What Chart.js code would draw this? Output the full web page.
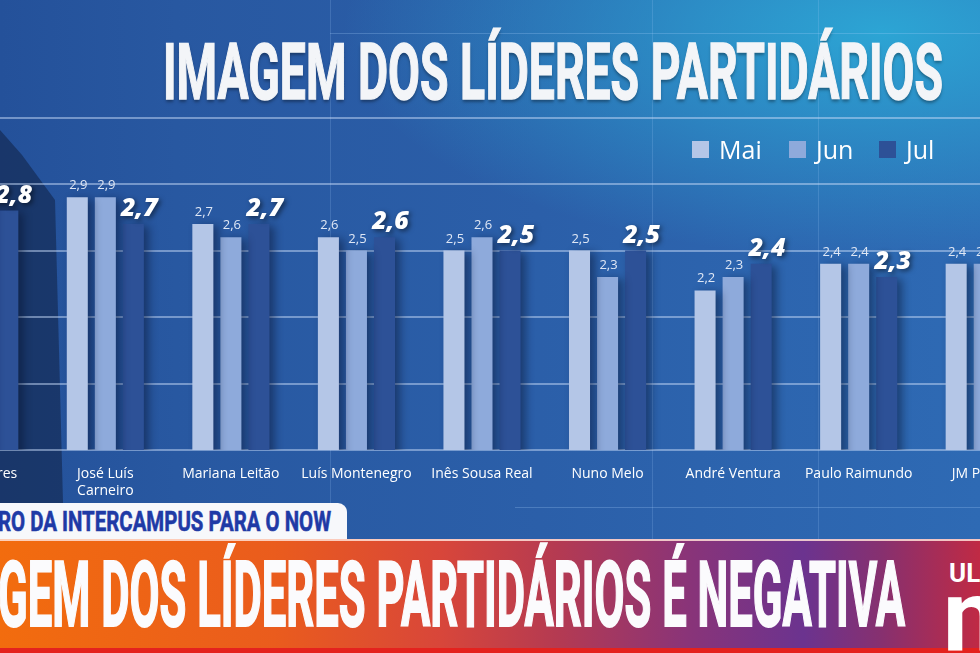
<!DOCTYPE html>
<html lang="pt">
<head>
<meta charset="utf-8">
<script src="https://cdn.jsdelivr.net/npm/chart.js@4.4.1/dist/chart.umd.min.js"></script>
<style>
  html,body{margin:0;padding:0;background:#1d3d72;}
  #stage{position:relative;width:980px;height:653px;overflow:hidden;font-family:"Open Sans",sans-serif;}
  #bg{position:absolute;left:0;top:0;width:980px;height:540px;
    background:
      radial-gradient(ellipse 55% 42% at 90% 6%, rgba(44,168,214,0.95) 0%, rgba(44,168,214,0) 100%),
      linear-gradient(90deg, #24519a 0%, #2858a1 18%, #2b5fa9 55%, #2e6ab4 100%);}
  #darkwedge{position:absolute;left:0;top:0;width:120px;height:540px;background:rgba(14,28,58,0.5);
    clip-path:polygon(0 130px, 22px 155px, 55px 200px, 64px 540px, 0 540px);}
  .vline{position:absolute;top:0;width:1px;height:540px;background:rgba(170,210,255,0.18);}
  .hline{position:absolute;left:0;height:1px;width:980px;background:rgba(170,210,255,0.25);}
  #chart{position:absolute;left:-83px;top:0;}
  #title{position:absolute;left:163px;top:35px;font-family:Roboto,"Liberation Sans",sans-serif;font-weight:700;
    font-size:77px;line-height:77px;color:#f3f5f8;white-space:nowrap;transform-origin:0 0;
    -webkit-text-stroke:1.5px #f3f5f8;text-shadow:0 3px 4px rgba(0,0,0,0.35);}
  .leg{position:absolute;top:140px;height:18px;display:flex;align-items:center;}
  .leg .sw{width:17px;height:17px;margin-right:10px;}
  .leg .tx{font-family:"Open Sans",sans-serif;font-size:25px;color:#fff;line-height:18px;}
  #tab{position:absolute;left:0;top:503px;width:347px;height:36px;background:#f7f8fb;border-top-right-radius:9px;}
  #tabtext{position:absolute;left:-2px;top:508px;font-family:Roboto,"Liberation Sans",sans-serif;font-weight:700;
    font-size:28px;line-height:28px;color:#1f3aa6;white-space:nowrap;transform-origin:0 0;-webkit-text-stroke:0.6px #1f3aa6;}
  #banner{position:absolute;left:0;top:539px;width:980px;height:114px;
    background:linear-gradient(90deg,#f26c0e 0%,#ea5c1d 28%,#d8463a 45%,#b43a52 57%,#8a3478 70%,#6b338f 82%,#87306f 90%,#c02a44 100%);
    border-top:2px solid rgba(255,225,215,0.85);box-sizing:border-box;}
  #redline{position:absolute;left:0;top:648px;width:980px;height:5px;background:#e4221e;}
  #bigtext{position:absolute;left:-2px;top:550px;font-family:Roboto,"Liberation Sans",sans-serif;font-weight:700;
    font-size:91px;line-height:91px;color:#fbfbfd;white-space:nowrap;transform-origin:0 0;-webkit-text-stroke:2px #fbfbfd;}
  #logo1{position:absolute;left:949px;top:560px;font-family:Roboto,sans-serif;font-weight:700;font-size:26px;line-height:26px;color:#fff;}
  #logo2{position:absolute;left:943px;top:566px;font-family:Roboto,sans-serif;font-weight:700;font-size:100px;line-height:100px;color:#fff;}
</style>
</head>
<body>
<div id="stage">
  <div id="bg"></div>
  <div id="darkwedge"></div>
  <div class="vline" style="left:330px"></div>
  <div class="vline" style="left:652px"></div>
  <div class="vline" style="left:818px"></div>
  <div class="hline" style="top:33px;left:330px;width:650px"></div>
  <div class="hline" style="top:507px;left:515px;width:465px"></div>
  <canvas id="chart" width="1130" height="500"></canvas>
  <div id="title" data-w="780">IMAGEM DOS LÍDERES PARTIDÁRIOS</div>
  <div id="legend"></div>
  <div id="tab"></div>
  <div id="tabtext" data-w="333">RO DA INTERCAMPUS PARA O NOW</div>
  <div id="banner"></div>
  <div id="redline"></div>
  <div id="bigtext" data-w="907">GEM DOS LÍDERES PARTIDÁRIOS É NEGATIVA</div>
  <div id="logo1">UL</div>
  <div id="logo2">n</div>
</div>
<script>
// ---- data ----
const categories = [
  "Rui Tavares",
  ["José Luís", "Carneiro"],
  "Mariana Leitão",
  "Luís Montenegro",
  "Inês Sousa Real",
  "Nuno Melo",
  "André Ventura",
  "Paulo Raimundo",
  "JM Pureza"
];
const seriesNames = ["Mai", "Jun", "Jul"];
const maiValues = [2.8, 2.9, 2.7, 2.6, 2.5, 2.5, 2.2, 2.4, 2.4];
const junValues = [2.9, 2.9, 2.6, 2.5, 2.6, 2.3, 2.3, 2.4, 2.4];
const julValues = [2.8, 2.7, 2.7, 2.6, 2.5, 2.5, 2.4, 2.3, 2.3];
const seriesColors = ["#b4c6e7", "#8eaadb", "#2d5197"];

// ---- legend (HTML) ----
const legendLefts = [692, 789, 879];
const legendEl = document.getElementById('legend');
seriesNames.forEach((n, i) => {
  const d = document.createElement('div');
  d.className = 'leg';
  d.style.left = legendLefts[i] + 'px';
  d.innerHTML = '<div class="sw" style="background:' + seriesColors[i] + '"></div><div class="tx">' + n + '</div>';
  legendEl.appendChild(d);
});

// ---- condense headline texts to the widths seen ----
function fitTexts(){
  document.querySelectorAll('[data-w]').forEach(el => {
    el.style.transform = 'none';
    const w = el.getBoundingClientRect().width;
    const target = parseFloat(el.dataset.w);
    el.style.transform = 'scaleX(' + (target / w) + ')';
  });
}

const barShadow = {
  id: 'barShadow',
  beforeDatasetDraw(chart){
    const c = chart.ctx; c.save();
    c.shadowColor = 'rgba(6,16,42,0.45)'; c.shadowBlur = 8; c.shadowOffsetX = 5; c.shadowOffsetY = 2;
  },
  afterDatasetDraw(chart){ chart.ctx.restore(); }
};

const valueLabels = {
  id: 'valueLabels',
  afterDatasetsDraw(chart){
    const c = chart.ctx;
    chart.data.datasets.forEach((ds, i) => {
      const meta = chart.getDatasetMeta(i);
      meta.data.forEach((bar, j) => {
        const txt = ds.data[j].toFixed(1).replace('.', ',');
        c.save();
        c.textAlign = 'center';
        c.textBaseline = 'alphabetic';
        if (i === 2) {
          c.font = 'italic 800 25px "Open Sans"';
          c.fillStyle = '#ffffff';
          c.shadowColor = 'rgba(0,0,0,0.55)'; c.shadowBlur = 5; c.shadowOffsetX = 2; c.shadowOffsetY = 2;
          c.fillText(txt, bar.x + 6, bar.y - 8);
        } else {
          c.font = '13px "Open Sans"';
          c.fillStyle = '#dfe7f5';
          c.fillText(txt, bar.x + 1, bar.y - 8);
        }
        c.restore();
      });
    });
  }
};

function build(){
  fitTexts();
  const datasets = [maiValues, junValues, julValues].map((vals, i) => ({
    label: seriesNames[i],
    data: vals,
    backgroundColor: seriesColors[i],
    borderWidth: 0,
    categoryPercentage: 0.67,
    barPercentage: 0.75
  }));
  new Chart(document.getElementById('chart'), {
    type: 'bar',
    data: { labels: categories, datasets },
    options: {
      responsive: false,
      animation: false,
      devicePixelRatio: 1,
      layout: { padding: { top: 117.5, left: 0, right: 0, bottom: 0 } },
      plugins: { legend: { display: false }, tooltip: { enabled: false }, title: { display: false } },
      scales: {
        x: {
          grid: { display: false },
          border: { display: false },
          ticks: {
            color: '#ffffff',
            font: { family: 'Open Sans', size: 14 },
            padding: 8,
            maxRotation: 0,
            autoSkip: false
          },
          afterFit(s){ s.height = 50; }
        },
        y: {
          min: 1,
          max: 3.5,
          ticks: { display: false, stepSize: 0.5 },
          grid: { color: 'rgba(195,215,245,0.5)', lineWidth: 2, drawTicks: false },
          border: { display: false },
          afterFit(s){ s.width = 0; }
        }
      }
    },
    plugins: [barShadow, valueLabels]
  });
}

Promise.all([
  document.fonts.load('14px "Open Sans"'),
  document.fonts.load('italic 800 25px "Open Sans"'),
  document.fonts.load('700 77px Roboto')
]).catch(() => {}).then(build);
</script>
</body>
</html>
